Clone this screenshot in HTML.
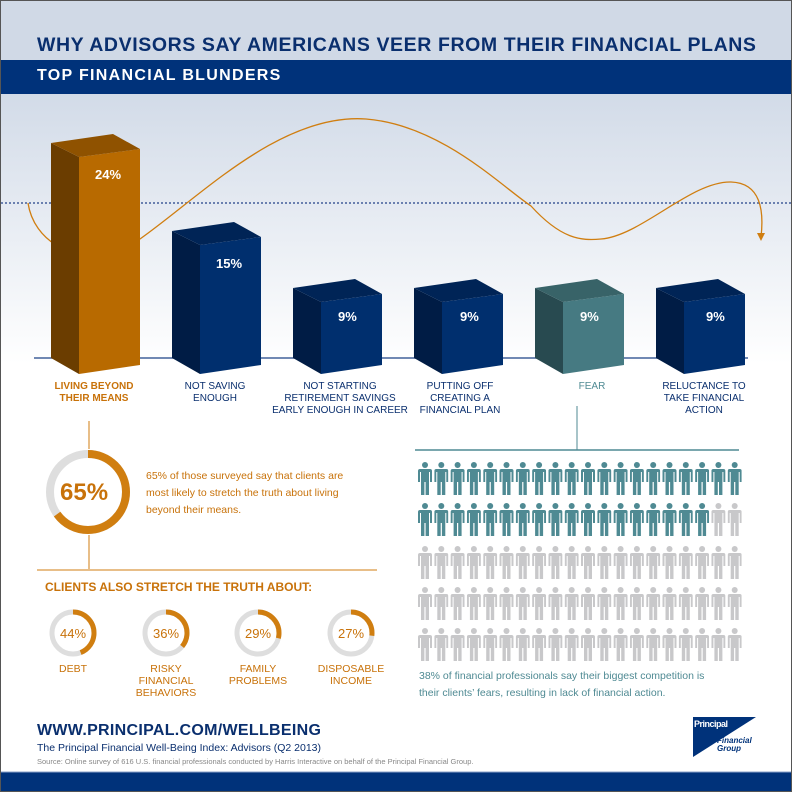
<!DOCTYPE html>
<html><head><meta charset="utf-8"><style>
body{margin:0;width:792px;height:792px;overflow:hidden;font-family:"Liberation Sans",sans-serif;}
#w{position:relative;width:790px;height:790px;border:1px solid #555;background:#fff;overflow:hidden}
.t{position:absolute;white-space:nowrap}
.c{position:absolute;text-align:center;font-size:10px;line-height:12px;color:#0a2f6e;width:140px}
</style></head><body><div id="w">
<svg width="790" height="790" style="position:absolute;left:0;top:0">
<defs>
<linearGradient id="g" x1="0" y1="0" x2="0" y2="1"><stop offset="0" stop-color="#d2dbe8"/><stop offset="1" stop-color="#ffffff"/></linearGradient>
<symbol id="p" viewBox="0 0 14 33"><circle cx="7" cy="3" r="3"/><path d="M2,7 H12 Q14,7 14,9 V20 H12 V10 H11 V33 H7.6 V20 H6.4 V33 H3 V10 H2 V20 H0 V9 Q0,7 2,7Z"/></symbol>
</defs>
<rect x="0" y="0" width="790" height="60" fill="#d0d9e6"/>
<rect x="0" y="59" width="790" height="34" fill="#00327a"/>
<rect x="0" y="93" width="790" height="270" fill="url(#g)"/>
<line x1="0" y1="202" x2="790" y2="202" stroke="#6b80b0" stroke-width="2" stroke-dasharray="2,2"/>
<line x1="33" y1="357" x2="747" y2="357" stroke="#40609a" stroke-width="1.5"/>
<path d="M27,202 C30,222 42,236 55,244 L139,238 C200,195 280,112 365,118 C440,124 500,185 530,205 C560,238 580,240 600,238 C640,235 690,180 730,181 C760,182 763,210 760,236" fill="none" stroke="#d07e10" stroke-width="1.3"/>
<path d="M756,232 L764,232 L760,240Z" fill="#d07e10"/>
<g id="bars"></g>
<line x1="88" y1="420" x2="88" y2="448" stroke="#d07e10"/>
<circle cx="87" cy="491" r="38" fill="none" stroke="#dedede" stroke-width="8"/>
<circle cx="87" cy="491" r="38" fill="none" stroke="#d07e10" stroke-width="8" stroke-dasharray="155.2 300" transform="rotate(-90 87 491)"/>
<line x1="88" y1="534" x2="88" y2="568" stroke="#d07e10"/>
<line x1="36" y1="569" x2="376" y2="569" stroke="#d07e10"/>
<g id="rings"></g>
<line x1="576" y1="405" x2="576" y2="449" stroke="#4f8a93"/>
<line x1="414" y1="449" x2="738" y2="449" stroke="#4f8a93" stroke-width="1.5"/>
<g id="ppl"></g>
<rect x="0" y="771" width="790" height="20" fill="#00327a"/>
<line x1="0" y1="771" x2="790" y2="771" stroke="#8aa0c8"/>
<path d="M692,716 L755,716 L692,756Z" fill="#00327a"/>
</svg>
<div class="t" style="left:36px;top:33px;font-size:19.5px;font-weight:bold;color:#0a2f6e;letter-spacing:0.6px">WHY ADVISORS SAY AMERICANS VEER FROM THEIR FINANCIAL PLANS</div>
<div class="t" style="left:36px;top:66px;font-size:16px;font-weight:bold;color:#fff;letter-spacing:1.3px">TOP FINANCIAL BLUNDERS</div>
<div class="t" style="left:94px;top:166px;font-size:13px;font-weight:bold;color:#fff">24%</div>
<div class="t" style="left:215px;top:255px;font-size:13px;font-weight:bold;color:#fff">15%</div>
<div class="t" style="left:337px;top:308px;font-size:13px;font-weight:bold;color:#fff">9%</div>
<div class="t" style="left:459px;top:308px;font-size:13px;font-weight:bold;color:#fff">9%</div>
<div class="t" style="left:579px;top:308px;font-size:13px;font-weight:bold;color:#fff">9%</div>
<div class="t" style="left:705px;top:308px;font-size:13px;font-weight:bold;color:#fff">9%</div>
<div class="c" style="left:23px;top:380px;color:#c8720a;font-weight:bold">LIVING BEYOND<br>THEIR MEANS</div>
<div class="c" style="left:144px;top:380px">NOT SAVING<br>ENOUGH</div>
<div class="c" style="left:269px;top:380px">NOT STARTING<br>RETIREMENT SAVINGS<br>EARLY ENOUGH IN CAREER</div>
<div class="c" style="left:389px;top:380px">PUTTING OFF<br>CREATING A<br>FINANCIAL PLAN</div>
<div class="c" style="left:521px;top:380px;color:#4f8a93">FEAR</div>
<div class="c" style="left:633px;top:380px">RELUCTANCE TO<br>TAKE FINANCIAL<br>ACTION</div>
<div class="t" style="left:59px;top:478px;font-size:24px;font-weight:bold;color:#c8720a">65%</div>
<div class="t" style="left:145px;top:467px;font-size:10.5px;line-height:17px;color:#c8720a">65% of those surveyed say that clients are<br>most likely to stretch the truth about living<br>beyond their means.</div>
<div class="t" style="left:44px;top:579px;font-size:12px;font-weight:bold;color:#c8720a">CLIENTS ALSO STRETCH THE TRUTH ABOUT:</div>
<div class="c" style="left:2px;top:662px;color:#c8720a;font-size:10.5px">DEBT</div>
<div class="c" style="left:95px;top:662px;color:#c8720a;font-size:10.5px">RISKY<br>FINANCIAL<br>BEHAVIORS</div>
<div class="c" style="left:187px;top:662px;color:#c8720a;font-size:10.5px">FAMILY<br>PROBLEMS</div>
<div class="c" style="left:280px;top:662px;color:#c8720a;font-size:10.5px">DISPOSABLE<br>INCOME</div>
<div class="t" style="left:418px;top:667px;font-size:10.5px;line-height:17px;color:#4f8a93">38% of financial professionals say their biggest competition is<br>their clients’ fears, resulting in lack of financial action.</div>
<div class="t" style="left:36px;top:721px;font-size:16px;font-weight:bold;color:#0a2f6e;letter-spacing:0.3px">WWW.PRINCIPAL.COM/WELLBEING</div>
<div class="t" style="left:36px;top:741px;font-size:10.5px;color:#0a2f6e">The Principal Financial Well-Being Index: Advisors (Q2 2013)</div>
<div class="t" style="left:36px;top:756px;font-size:7.5px;color:#888">Source: Online survey of 616 U.S. financial professionals conducted by Harris Interactive on behalf of the Principal Financial Group.</div>
<div class="t" style="left:693px;top:718px;font-size:9px;font-weight:bold;color:#fff;letter-spacing:-0.5px">Principal</div>
<div class="t" style="left:716px;top:736px;font-size:8px;font-weight:bold;font-style:italic;color:#00327a;line-height:8px">Financial<br>Group</div>
</div>
<script>
var ns="http://www.w3.org/2000/svg";
function el(p,t,a){var e=document.createElementNS(ns,t);for(var k in a)e.setAttribute(k,a[k]);p.appendChild(e);return e;}
var B=document.getElementById("bars");
var bars=[[50,142,"#b86a00","#6b3d00","#8f5200"],[171,230,"#002f6e","#001c45","#002456"],[292,287,"#002f6e","#001c45","#002456"],[413,287,"#002f6e","#001c45","#002456"],[534,287,"#467a82","#284a50","#386368"],[655,287,"#002f6e","#001c45","#002456"]];
bars.forEach(function(b){var x=b[0],t=b[1],x1=x+28,x2=x+89,xb=x+62;
el(B,"polygon",{points:x+","+t+" "+x1+","+(t+14)+" "+x1+",373 "+x+",357",fill:b[3]});
el(B,"polygon",{points:x1+","+(t+14)+" "+x2+","+(t+6)+" "+x2+",364 "+x1+",373",fill:b[2]});
el(B,"polygon",{points:x+","+t+" "+xb+","+(t-9)+" "+x2+","+(t+6)+" "+x1+","+(t+14),fill:b[4]});});
var R=document.getElementById("rings");
[[72,44],[165,36],[257,29],[350,27]].forEach(function(r){var c=2*Math.PI*21;
el(R,"circle",{cx:r[0],cy:632,r:21,fill:"none",stroke:"#dedede","stroke-width":5});
el(R,"circle",{cx:r[0],cy:632,r:21,fill:"none",stroke:"#d07e10","stroke-width":5,"stroke-dasharray":(c*r[1]/100)+" 200",transform:"rotate(-90 "+r[0]+" 632)"});
var t=el(R,"text",{x:r[0],y:637,"text-anchor":"middle","font-size":"13",fill:"#c8720a","font-family":"Liberation Sans"});t.textContent=r[1]+"%";});
var P=document.getElementById("ppl");var ys=[461,502,545,586,627];
for(var i=0;i<5;i++)for(var j=0;j<20;j++){var n=i*20+j;
el(P,"use",{href:"#p",x:417+j*16.3,y:ys[i],width:14,height:33,fill:n<38?"#4f8a93":"#c8c8ca"});}
</script>
</body></html>
